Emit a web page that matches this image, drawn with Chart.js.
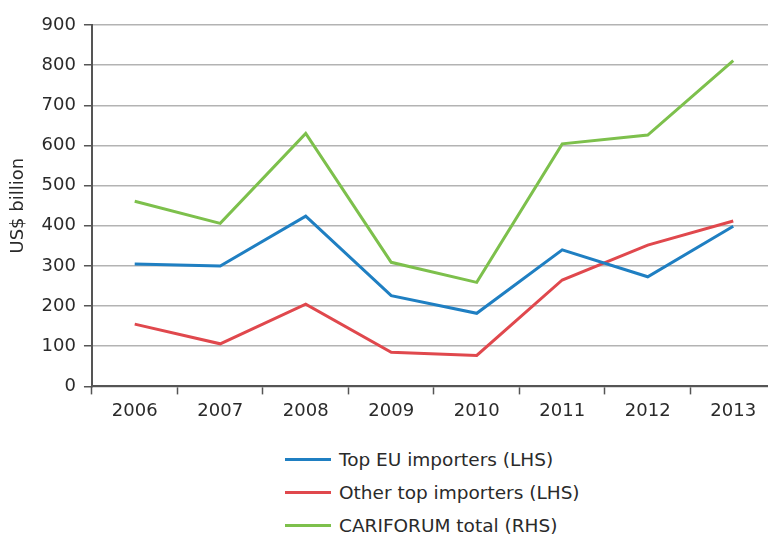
<!DOCTYPE html>
<html>
<head>
<meta charset="utf-8">
<title>CARIFORUM imports</title>
<script src="https://cdn.jsdelivr.net/npm/chart.js@4"></script>
<style>
body{margin:0;background:#fff;overflow:hidden;font-family:"DejaVu Sans",sans-serif;}
#wrap{position:relative;width:776px;height:534px;}
#chart{position:absolute;left:0;top:0;}
#legend{position:absolute;left:285px;top:443px;}
.item{display:flex;align-items:center;height:33px;font-size:18.5px;color:#2a2a2a;}
.swatch{width:46px;height:3px;margin-right:8px;}
</style>
</head>
<body>
<div id="wrap">
  <canvas id="chart" width="776" height="428"></canvas>
  <div id="legend"></div>
</div>
<script>
const years = ["2006","2007","2008","2009","2010","2011","2012","2013"];
const topEU = [305, 300, 424, 226, 182, 340, 273, 399];
const otherTop = [155, 106, 205, 85, 77, 265, 352, 412];
const cariforum = [461, 406, 630, 309, 259, 604, 626, 811];

const seriesNames = ["Top EU importers (LHS)", "Other top importers (LHS)", "CARIFORUM total (RHS)"];
const seriesColors = ["#1f7fc2", "#e0484d", "#7dc04c"];

const axisColor = "#555";
const textColor = "#2a2a2a";
const font = {family:"DejaVu Sans", size:18};

const chart = new Chart(document.getElementById("chart"), {
  type: "line",
  data: {
    labels: years,
    datasets: [topEU, otherTop, cariforum].map((vals, i) => ({
      label: seriesNames[i],
      data: vals,
      borderColor: seriesColors[i],
      backgroundColor: seriesColors[i],
      borderWidth: 3,
      pointRadius: 0,
      tension: 0,
      fill: false
    }))
  },
  options: {
    responsive: false,
    animation: false,
    layout: {padding: {left: 8, top: 25, right: 0, bottom: 0}},
    plugins: {legend: {display: false}, tooltip: {enabled: false}},
    scales: {
      x: {
        offset: true,
        grid: {offset: true, drawOnChartArea: false, tickLength: 8, tickColor: axisColor, tickWidth: 1.5},
        border: {color: axisColor, width: 2},
        ticks: {font: font, color: textColor, padding: 6, maxRotation: 0}
      },
      y: {
        min: 0,
        max: 900,
        ticks: {stepSize: 100, font: font, color: textColor, padding: 8},
        grid: {color: "#b3b3b3", lineWidth: 1.5, tickLength: 8, tickColor: axisColor},
        border: {color: axisColor, width: 2},
        title: {display: true, text: "US$ billion", font: font, color: textColor, padding: {top: 0, bottom: 4}}
      }
    }
  }
});

// vertical legend under the plot
const legend = document.getElementById("legend");
chart.data.datasets.forEach(ds => {
  const row = document.createElement("div");
  row.className = "item";
  row.innerHTML = `<span class="swatch" style="background:${ds.borderColor}"></span>${ds.label}`;
  legend.appendChild(row);
});
</script>
</body>
</html>
